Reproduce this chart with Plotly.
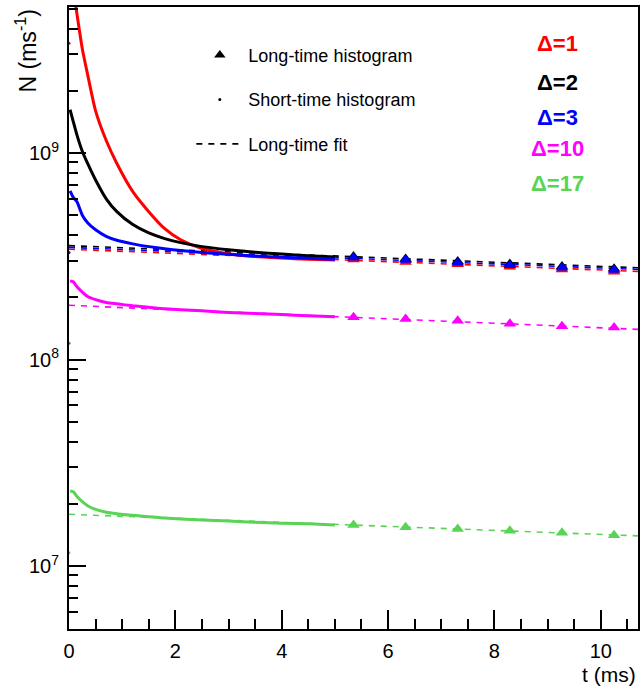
import plotly.graph_objects as go

# ---- data -------------------------------------------------------------
deltas = ["Δ=1", "Δ=2", "Δ=3", "Δ=10", "Δ=17"]
colors = ["#ff0000", "#000000", "#0000ff", "#ff00ff", "#59d454"]

# short-time histogram (0 - 5 ms)
t_short = [0.02, 0.08, 0.15, 0.25, 0.35, 0.5, 0.7, 0.9, 1.2, 1.5, 1.8,
           2.1, 2.5, 3.0, 3.5, 4.0, 4.5, 5.0]
short_d1 = [8.0e9, 6.2e9, 4.7e9, 3.2e9, 2.4e9, 1.6e9, 1.15e9, 8.9e8, 6.5e8,
            5.2e8, 4.3e8, 3.8e8, 3.45e8, 3.25e8, 3.15e8, 3.1e8, 3.06e8, 3.03e8]
short_d2 = [1.62e9, 1.42e9, 1.22e9, 1.02e9, 8.9e8, 7.4e8, 6.0e8, 5.2e8, 4.5e8,
            4.1e8, 3.85e8, 3.68e8, 3.52e8, 3.40e8, 3.31e8, 3.24e8, 3.18e8, 3.14e8]
short_d3 = [6.55e8, 6.1e8, 5.8e8, 5.0e8, 4.6e8, 4.25e8, 3.95e8, 3.78e8, 3.63e8,
            3.52e8, 3.44e8, 3.37e8, 3.30e8, 3.23e8, 3.17e8, 3.13e8, 3.09e8, 3.06e8]
short_d10 = [2.40e8, 2.38e8, 2.25e8, 2.12e8, 2.02e8, 1.95e8, 1.89e8, 1.86e8, 1.82e8,
             1.79e8, 1.76e8, 1.74e8, 1.72e8, 1.69e8, 1.67e8, 1.65e8, 1.63e8, 1.61e8]
short_d17 = [2.31e7, 2.29e7, 2.17e7, 2.05e7, 1.96e7, 1.88e7, 1.82e7, 1.79e7, 1.76e7,
             1.73e7, 1.71e7, 1.69e7, 1.67e7, 1.65e7, 1.63e7, 1.61e7, 1.60e7, 1.58e7]
short_series = [short_d1, short_d2, short_d3, short_d10, short_d17]

# first (partial) bin of the short-time histogram
first_bin = [3.4e9, None, 3.3e8, 1.2e8, 1.16e7]

# long-time histogram
t_long = [5.35, 6.33, 7.31, 8.29, 9.27, 10.25]
long_d1 = [3.05e8, 2.97e8, 2.89e8, 2.81e8, 2.73e8, 2.66e8]
long_d2 = [3.15e8, 3.07e8, 2.98e8, 2.90e8, 2.82e8, 2.75e8]
long_d3 = [3.11e8, 3.03e8, 2.94e8, 2.86e8, 2.78e8, 2.71e8]
long_d10 = [1.60e8, 1.57e8, 1.54e8, 1.49e8, 1.45e8, 1.43e8]
long_d17 = [1.58e7, 1.54e7, 1.51e7, 1.48e7, 1.45e7, 1.41e7]
long_series = [long_d1, long_d2, long_d3, long_d10, long_d17]

# long-time exponential fit, evaluated at the ends of the axis
t_fit = [0.0, 10.7]
fit_d1 = [3.42e8, 2.67e8]
fit_d2 = [3.56e8, 2.78e8]
fit_d3 = [3.49e8, 2.73e8]
fit_d10 = [1.83e8, 1.40e8]
fit_d17 = [1.78e7, 1.40e7]
fit_series = [fit_d1, fit_d2, fit_d3, fit_d10, fit_d17]

y_ticks = [1e7, 1e8, 1e9]
y_ticktext = ["10<sup>7</sup>", "10<sup>8</sup>", "10<sup>9</sup>"]

# ---- figure -----------------------------------------------------------
FONT = "Liberation Sans, Arial, Helvetica, sans-serif"
fig = go.Figure()

for fit, col in zip(fit_series, colors):
    fig.add_trace(go.Scatter(x=t_fit, y=fit, mode="lines", showlegend=False,
                             line=dict(color=col, width=1.6, dash="6px,6px"),
                             hoverinfo="skip"))

for ys, first, col in zip(short_series, first_bin, colors):
    fig.add_trace(go.Scatter(x=t_short, y=ys, mode="lines", showlegend=False,
                             line=dict(color=col, width=3, shape="spline",
                                       smoothing=0.6)))
    if first is not None:
        fig.add_trace(go.Scatter(x=[0.0], y=[first], mode="markers",
                                 showlegend=False, cliponaxis=False,
                                 marker=dict(color=col, size=3)))

for ys, col in zip(long_series, colors):
    fig.add_trace(go.Scatter(x=t_long, y=ys, mode="markers", showlegend=False,
                             marker=dict(symbol="triangle-up", size=11,
                                         color=col, line=dict(width=0))))

# legend samples
fig.add_trace(go.Scatter(x=[None], y=[None], mode="markers",
                         name="Long-time histogram", legendgroup="a",
                         marker=dict(symbol="triangle-up", size=10, color="black")))
fig.add_trace(go.Scatter(x=[None], y=[None], mode="markers",
                         name="Short-time histogram", legendgroup="b",
                         marker=dict(size=3, color="black")))
fig.add_trace(go.Scatter(x=[None], y=[None], mode="lines",
                         name="Long-time fit", legendgroup="c",
                         line=dict(color="black", width=1.6, dash="6px,6px")))

# Δ labels
label_y = [0.942, 0.879, 0.823, 0.773, 0.717]
for txt, col, yy in zip(deltas, colors, label_y):
    fig.add_annotation(xref="paper", yref="paper", x=0.858, y=yy,
                       text=f"<b>{txt}</b>", showarrow=False,
                       font=dict(family=FONT, size=22, color=col),
                       xanchor="center", yanchor="middle")

# axis titles
fig.add_annotation(xref="paper", yref="paper", x=-0.075, y=0.999,
                   text="N (ms<sup>-1</sup>)", textangle=-90, showarrow=False,
                   font=dict(family=FONT, size=23, color="black"),
                   xanchor="center", yanchor="top")
fig.add_annotation(xref="paper", yref="paper", x=1.0, y=-0.0735,
                   text="t (ms)", showarrow=False,
                   font=dict(family=FONT, size=21, color="black"),
                   xanchor="right", yanchor="middle")

minor_y = [k * 10 ** n for n in range(6, 10) for k in range(2, 10)]

fig.update_layout(
    width=643, height=686,
    margin=dict(l=69, r=3, t=7, b=57),
    paper_bgcolor="white", plot_bgcolor="white",
    font=dict(family=FONT, size=20, color="black"),
    legend=dict(x=0.215, y=0.952, xanchor="left", yanchor="top",
                bgcolor="rgba(0,0,0,0)", borderwidth=0,
                font=dict(family=FONT, size=18, color="black"),
                traceorder="grouped", tracegroupgap=18, itemwidth=47),
    xaxis=dict(range=[0, 10.7], showgrid=False, zeroline=False,
               showline=True, linecolor="black", linewidth=2, mirror=True,
               ticks="inside", ticklen=19, tickwidth=1.6, tickcolor="black",
               dtick=2, tick0=0, tickfont=dict(size=20), ticklabelstandoff=3,
               minor=dict(ticks="inside", ticklen=10, tickwidth=1.6,
                          tickcolor="black", dtick=0.5, tick0=0,
                          showgrid=False)),
    yaxis=dict(type="log", range=[6.695, 9.707], showgrid=False, zeroline=False,
               showline=True, linecolor="black", linewidth=2, mirror=True,
               ticks="inside", ticklen=17, tickwidth=1.6, tickcolor="black",
               tickmode="array", tickvals=y_ticks, ticktext=y_ticktext,
               tickfont=dict(size=20), ticklabelstandoff=4,
               minor=dict(ticks="inside", ticklen=9, tickwidth=1.6,
                          tickcolor="black", tickmode="array",
                          tickvals=minor_y, showgrid=False)),
)

fig.write_html("out.html")
